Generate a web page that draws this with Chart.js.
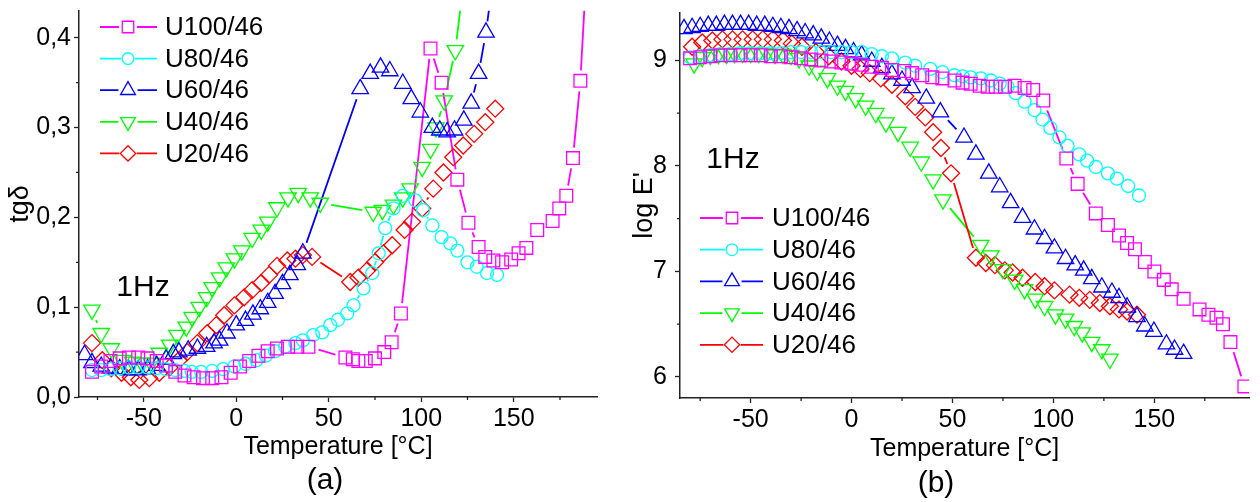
<!DOCTYPE html>
<html>
<head>
<meta charset="utf-8">
<script src="https://cdn.jsdelivr.net/npm/chart.js"></script>
<style>
	html, body { margin: 0; padding: 0; background: #ffffff; }
	#wrap { position: relative; width: 1260px; height: 502px; }
	#wrap canvas { position: absolute; top: 0; }
</style>
</head>
<body>
<div id="wrap">
	<canvas id="chartA" width="630" height="502" style="left:0px"></canvas>
	<canvas id="chartB" width="630" height="502" style="left:630px"></canvas>
</div>
<script>
// ---- panel (a) : tg delta vs temperature ----
const tempA100 = [-78,-73,-68,-63,-58,-53,-48,-43,-38,-33,-28,-23,-18,-13,-8,-3,2,7,12,17,22,28,33,39,59,63,66,70,75,80,84,89,105,111,119.5,125.5,131,134.6,139,143.7,148.6,152.6,156.8,162.7,171,174.6,178.4,182,186,190];
const tanA100 = [0.028,0.034,0.040,0.043,0.044,0.044,0.043,0.040,0.035,0.028,0.024,0.022,0.021,0.021,0.022,0.027,0.034,0.040,0.046,0.051,0.054,0.056,0.056,0.056,0.044,0.042,0.040,0.040,0.043,0.050,0.061,0.093,0.388,0.350,0.242,0.194,0.167,0.156,0.152,0.150,0.153,0.160,0.166,0.186,0.196,0.210,0.224,0.266,0.352,0.500];

const tempA80 = [-78,-73,-68,-63,-58,-53,-48,-43,-38,-33,-28,-24,-19,-13,-7,-1,5,11,16,21,26.5,32,36,41.6,46.5,50.8,55,60,63.4,68.8,73.5,77,80.5,85,90,96.8,101,106,111,115.7,119.5,125,130,135.6,141];
const tanA80 = [0.030,0.030,0.031,0.032,0.033,0.033,0.033,0.032,0.031,0.030,0.029,0.028,0.028,0.029,0.031,0.034,0.037,0.041,0.046,0.051,0.056,0.060,0.063,0.069,0.072,0.080,0.086,0.093,0.102,0.121,0.138,0.160,0.188,0.210,0.224,0.219,0.208,0.191,0.178,0.171,0.163,0.150,0.145,0.138,0.136];

const tempA60 = [-82,-78,-73,-68,-63,-58,-53,-48,-43,-38,-34,-31,-26,-21,-16,-12,-9,-5,0,5,9,13,17,21,25,29,33,36,67,72.4,78,83,90,94.6,99.5,106,110,114,118,123,127,131,135,141];
const tanA60 = [0.047,0.038,0.034,0.032,0.031,0.030,0.030,0.031,0.035,0.042,0.048,0.050,0.052,0.054,0.056,0.060,0.063,0.071,0.080,0.085,0.092,0.098,0.105,0.115,0.126,0.136,0.147,0.160,0.343,0.360,0.367,0.363,0.349,0.332,0.317,0.300,0.297,0.295,0.297,0.308,0.327,0.360,0.406,0.500];

const tempA40 = [-78,-73,-67.6,-61.6,-56,-51,-46,-41.6,-36,-32,-27,-23.8,-20,-16,-13,-9,-5.4,-1,3,8.6,13.5,17,22,28,33.5,40,45.4,74,79,85,90,94,100.5,105,108,112.4,118.4,124];
const tanA40 = [0.097,0.071,0.054,0.041,0.039,0.038,0.038,0.049,0.058,0.069,0.078,0.089,0.100,0.111,0.122,0.133,0.144,0.154,0.163,0.177,0.186,0.195,0.211,0.222,0.227,0.222,0.216,0.206,0.208,0.214,0.222,0.232,0.256,0.276,0.300,0.330,0.386,0.480];

const tempA20 = [-78,-72.4,-67.6,-62,-57,-52.4,-47,-41.6,-36,-31,-26.5,-21,-15.7,-10.8,-6.5,-1,4.3,8.6,13.5,17.8,22,27.6,32,36,41,61.6,66,70.8,75,79.5,84.3,91,95,100.5,106.5,112,117.3,122.7,128.6,134.6,140];
const tanA20 = [0.060,0.041,0.032,0.027,0.022,0.019,0.021,0.027,0.033,0.041,0.050,0.060,0.071,0.080,0.091,0.102,0.111,0.119,0.127,0.136,0.146,0.152,0.154,0.158,0.156,0.128,0.133,0.141,0.150,0.160,0.169,0.186,0.195,0.210,0.232,0.250,0.267,0.280,0.293,0.306,0.321];

// ---- panel (b) : log E' vs temperature ----
const tempB100 = [-80,-75,-70,-65,-60,-55,-50,-45,-40,-35,-30,-25,-20,-15,-10,-5,0,5,10,15,20,26,30,35,40,45,51,55,59,63.5,67.5,71.4,76,80.8,85.7,90,95,106.4,112,121,127,132.5,136.5,140.4,145.3,150,154.7,158.6,164.5,172.4,176.8,180.8,184,187.7,194.6];
const logB100 = [9.02,9.03,9.04,9.05,9.05,9.05,9.05,9.05,9.04,9.04,9.03,9.02,9.01,9.00,8.99,8.98,8.97,8.96,8.94,8.93,8.91,8.90,8.88,8.86,8.84,8.83,8.81,8.79,8.78,8.76,8.75,8.75,8.75,8.76,8.74,8.72,8.62,8.07,7.83,7.55,7.44,7.34,7.27,7.21,7.09,7.00,6.92,6.83,6.74,6.64,6.59,6.56,6.50,6.33,5.91];

const tempB80 = [-80,-75,-70,-65,-60,-55,-50,-45,-40,-35,-30,-25,-20,-15,-10,-5,0,5,10,15,20,26.6,31.5,39,45,51,55,59,64,69,73.4,77.3,81.3,85.7,90.6,94.6,98.5,103,107,112.8,116.7,121,127,131.5,137,142.4];
const logB80 = [9.03,9.04,9.05,9.06,9.06,9.07,9.07,9.07,9.07,9.07,9.08,9.08,9.08,9.08,9.08,9.08,9.08,9.08,9.06,9.04,9.02,8.98,8.95,8.92,8.89,8.86,8.85,8.84,8.83,8.81,8.78,8.75,8.69,8.61,8.53,8.44,8.36,8.27,8.19,8.11,8.05,7.99,7.93,7.88,7.81,7.72];

const tempB60 = [-83,-79,-75,-71,-67,-63,-59,-55,-51,-47,-43,-39,-35,-31,-27,-23,-19,-15,-11,-7,-3,1,5,10,15,20,25,30,37,44,55.7,61.6,68,73.4,78.8,84.7,90.6,95.6,100.5,106,110.8,115,119,124,129,132.5,136.5,141.4,145.3,149.8,156,160,164.5];
const logB60 = [9.30,9.31,9.32,9.33,9.33,9.34,9.34,9.34,9.34,9.33,9.33,9.32,9.31,9.30,9.28,9.26,9.24,9.21,9.18,9.14,9.11,9.08,9.05,8.99,8.93,8.87,8.81,8.74,8.64,8.51,8.27,8.11,7.93,7.80,7.65,7.51,7.40,7.31,7.22,7.12,7.06,7.01,6.93,6.85,6.80,6.75,6.66,6.57,6.48,6.43,6.31,6.26,6.22];

const tempB40 = [-78,-74,-70,-66,-62,-58,-54,-50,-46,-42,-38,-34,-30,-26,-21,-17,-12,-7,-3,2,7,12,17,23,29,34.5,40.4,45.3,64,69,75,80.8,85.7,91,95.6,101,106,110.3,114.3,119,124,128];
const logB40 = [8.97,9.03,9.05,9.06,9.06,9.07,9.07,9.07,9.07,9.07,9.06,9.06,9.05,9.02,8.95,8.90,8.83,8.76,8.71,8.64,8.57,8.50,8.41,8.32,8.18,8.04,7.87,7.68,7.25,7.15,7.02,6.92,6.83,6.74,6.67,6.59,6.55,6.48,6.42,6.33,6.26,6.17];

const tempB20 = [-79,-74,-69,-64,-59,-54,-49,-44,-39,-34,-29.6,-24.6,-17.7,-11.3,-5,0,4.4,9,14.5,20,26.6,31.5,36.5,40.4,44.3,49.3,61.6,66.5,71,75.9,79.8,84.7,91,95.6,100.5,108,112.8,118,123,128,132.5,136.5,141.4];
const logB20 = [9.13,9.17,9.19,9.20,9.20,9.20,9.20,9.20,9.20,9.19,9.16,9.13,9.08,9.04,8.99,8.95,8.92,8.88,8.83,8.77,8.66,8.56,8.46,8.32,8.17,7.93,7.13,7.08,7.06,7.01,6.99,6.94,6.90,6.86,6.82,6.78,6.75,6.73,6.70,6.67,6.64,6.62,6.59];

const seriesNames = ['U100/46', 'U80/46', 'U60/46', 'U40/46', 'U20/46'];

// symbol look, Origin style open markers
const looks = [
	{ color: '#ff00ff', style: 'rect', radius: 9, rotation: 0 },
	{ color: '#00ffff', style: 'circle', radius: 6.5, rotation: 0 },
	{ color: '#0000ff', style: 'triangle', radius: 9.5, rotation: 0 },
	{ color: '#00ff00', style: 'triangle', radius: 9.5, rotation: 180 },
	{ color: '#ff0000', style: 'rectRot', radius: 8.5, rotation: 0 }
];

const FONT = '"Liberation Sans", Arial, sans-serif';
Chart.defaults.color = '#000000';
Chart.defaults.font.family = FONT;

function pairs(xs, ys)
{
	return xs.map((x, i) => ({ x: x, y: ys[i] }));
}

function makeDatasets(groups)
{
	return groups.map((g, i) => ({
		label: seriesNames[i],
		data: pairs(g[0], g[1]),
		showLine: false,
		borderColor: looks[i].color,
		backgroundColor: 'rgba(0,0,0,0)',
		pointStyle: looks[i].style,
		pointRotation: looks[i].rotation,
		pointRadius: looks[i].radius,
		pointBorderWidth: 1.3,
		pointHoverRadius: looks[i].radius
	}));
}

// connecting lines with a gap round each symbol, legend, minor ticks, notes
const originDecor = {
	id: 'originDecor',
	beforeDatasetsDraw(chart)
	{
		const ctx = chart.ctx;
		const area = chart.chartArea;
		ctx.save();
		ctx.beginPath();
		ctx.rect(area.left, area.top, area.right - area.left, area.bottom - area.top);
		ctx.clip();
		chart.data.datasets.forEach((ds, i) => {
			const pts = chart.getDatasetMeta(i).data;
			const gap = ds.pointRadius + 1.5;
			ctx.strokeStyle = ds.borderColor;
			ctx.lineWidth = 1.8;
			ctx.beginPath();
			for (let k = 1; k < pts.length; k++)
			{
				const a = pts[k - 1], b = pts[k];
				const dx = b.x - a.x, dy = b.y - a.y;
				const d = Math.hypot(dx, dy);
				if (d <= 2 * gap + 1)
					continue;
				ctx.moveTo(a.x + dx / d * gap, a.y + dy / d * gap);
				ctx.lineTo(b.x - dx / d * gap, b.y - dy / d * gap);
			}
			ctx.stroke();
		});
		ctx.restore();
	},
	afterDraw(chart, args, opts)
	{
		const ctx = chart.ctx;
		const xs = chart.scales.x, ys = chart.scales.y;
		ctx.save();

		// minor ticks
		ctx.strokeStyle = '#222';
		ctx.lineWidth = 1.3;
		ctx.beginPath();
		for (let v = Math.ceil(xs.min / opts.xMinor) * opts.xMinor; v <= xs.max; v += opts.xMinor)
		{
			if (Math.abs(v / (2 * opts.xMinor) - Math.round(v / (2 * opts.xMinor))) < 1e-6)
				continue;
			const px = xs.getPixelForValue(v);
			ctx.moveTo(px, xs.top);
			ctx.lineTo(px, xs.top + 3);
		}
		for (let v = Math.ceil(ys.min / opts.yMinor) * opts.yMinor; v <= ys.max; v += opts.yMinor)
		{
			if (Math.abs(v / (2 * opts.yMinor) - Math.round(v / (2 * opts.yMinor))) < 1e-6)
				continue;
			const py = ys.getPixelForValue(v);
			ctx.moveTo(ys.right, py);
			ctx.lineTo(ys.right - 3, py);
		}
		ctx.stroke();

		// legend
		const L = opts.legend;
		looks.forEach((s, i) => {
			const y = L.top + i * L.step;
			const r = s.radius * 0.9;
			ctx.strokeStyle = s.color;
			ctx.lineWidth = 1.8;
			ctx.beginPath();
			ctx.moveTo(L.left, y);
			ctx.lineTo(L.mid - r - 1, y);
			ctx.moveTo(L.mid + r + 1, y);
			ctx.lineTo(L.right, y);
			ctx.stroke();
			ctx.lineWidth = 1.3;
			ctx.fillStyle = 'rgba(0,0,0,0)';
			Chart.helpers.drawPoint(ctx, { pointStyle: s.style, radius: r, rotation: s.rotation, borderWidth: 1.3 }, L.mid, y);
			ctx.fillStyle = '#000';
			ctx.font = '26px ' + FONT;
			ctx.textAlign = 'left';
			ctx.textBaseline = 'middle';
			ctx.fillText(seriesNames[i], L.text, y + 1);
		});

		// frequency note and panel letter
		ctx.fillStyle = '#000';
		ctx.textAlign = 'center';
		ctx.textBaseline = 'middle';
		ctx.font = '30px ' + FONT;
		ctx.fillText('1Hz', opts.note.x, opts.note.y);
		ctx.fillText(opts.panel.text, opts.panel.x, opts.panel.y);
		ctx.restore();
	}
};

function buildChart(canvasId, groups, cfg)
{
	const ctx = document.getElementById(canvasId).getContext('2d');
	return new Chart(ctx, {
		type: 'scatter',
		data: { datasets: makeDatasets(groups) },
		plugins: [originDecor],
		options: {
			responsive: false,
			animation: false,
			events: [],
			layout: { padding: cfg.padding },
			plugins: {
				legend: { display: false },
				tooltip: { enabled: false },
				originDecor: cfg.decor
			},
			scales: {
				x: {
					type: 'linear',
					min: cfg.xMin,
					max: cfg.xMax,
					border: { display: true, color: '#222', width: 1.5 },
					grid: { display: true, drawOnChartArea: false, drawTicks: true, tickLength: 5, tickColor: '#222', tickWidth: 1.3 },
					ticks: { stepSize: 50, includeBounds: false, padding: 2, font: { size: 25 }, maxRotation: 0 },
					title: { display: true, text: 'Temperature [°C]', font: { size: 25 }, padding: 0 },
					afterFit: (s) => { s.height = cfg.xAxisHeight; s.paddingLeft = 0; s.paddingRight = 0; }
				},
				y: {
					type: 'linear',
					min: cfg.yMin,
					max: cfg.yMax,
					border: { display: true, color: '#222', width: 1.5 },
					grid: { display: true, drawOnChartArea: false, drawTicks: true, tickLength: 5, tickColor: '#222', tickWidth: 1.3 },
					ticks: { stepSize: cfg.yStep, includeBounds: false, padding: cfg.yTickPad, font: { size: 25 }, callback: cfg.yFormat },
					title: { display: true, text: cfg.yTitle, font: { size: 27 }, padding: { top: cfg.yTitlePad, bottom: 0 } },
					afterFit: (s) => { s.width = cfg.yAxisWidth; s.paddingTop = 0; s.paddingBottom = 0; }
				}
			}
		}
	});
}

buildChart('chartA',
	[[tempA100, tanA100], [tempA80, tanA80], [tempA60, tanA60], [tempA40, tanA40], [tempA20, tanA20]],
	{
		padding: { left: 0, top: 10, right: 33, bottom: 40 },
		xMin: -85, xMax: 195, yMin: 0, yMax: 0.43, yStep: 0.1,
		xAxisHeight: 65, yAxisWidth: 79, yTickPad: 3, yTitlePad: 4,
		yTitle: 'tgδ',
		yFormat: (v) => v.toFixed(1).replace('.', ','),
		decor: {
			xMinor: 25, yMinor: 0.05,
			legend: { left: 100, mid: 128, right: 157, text: 165, top: 27, step: 31.6 },
			note: { x: 143, y: 288 },
			panel: { text: '(a)', x: 325, y: 481 }
		}
	});

buildChart('chartB',
	[[tempB100, logB100], [tempB80, logB80], [tempB60, logB60], [tempB40, logB40], [tempB20, logB20]],
	{
		padding: { left: 0, top: 13, right: 5, bottom: 38 },
		xMin: -85, xMax: 197, yMin: 5.8, yMax: 9.45, yStep: 1,
		xAxisHeight: 66, yAxisWidth: 50, yTickPad: 8, yTitlePad: -2,
		yTitle: "log E'",
		yFormat: (v) => String(Math.round(v)),
		decor: {
			xMinor: 25, yMinor: 0.5,
			legend: { left: 70, mid: 102, right: 133, text: 142, top: 218, step: 31.7 },
			note: { x: 103, y: 160 },
			panel: { text: '(b)', x: 306, y: 484 }
		}
	});
</script>
</body>
</html>
